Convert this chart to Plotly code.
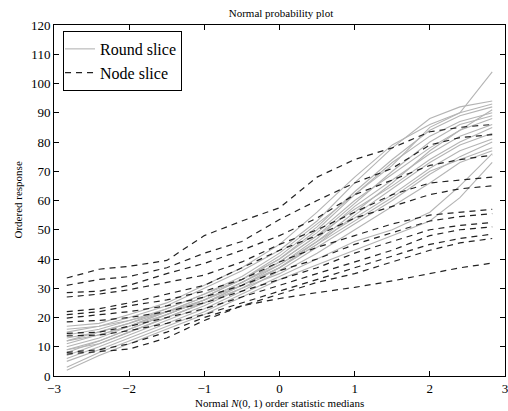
import plotly.graph_objects as go

# Shared x positions (normal order statistic medians, sampled)
x_grid = [-2.83, -2.4, -2.0, -1.5, -1.0, -0.5, 0.0, 0.5, 1.0, 1.5, 2.0, 2.4, 2.83]

# Round slice series (gray solid)
round_slice = [
    [12, 15, 18, 23, 28, 33, 40, 50, 62, 72, 85, 90, 104],
    [15, 17, 20, 24, 30, 36, 43, 53, 66, 78, 88, 92, 94],
    [17, 18, 21, 25, 31, 37, 45, 56, 68, 79, 86, 90, 93],
    [10, 13, 17, 22, 27, 33, 41, 51, 63, 74, 84, 89, 92],
    [14, 16, 19, 23, 28, 34, 42, 52, 62, 73, 82, 87, 90],
    [9, 12, 16, 21, 26, 32, 39, 48, 59, 70, 80, 86, 89],
    [11, 14, 17, 22, 27, 33, 40, 49, 60, 69, 78, 84, 88],
    [7, 11, 15, 20, 25, 31, 38, 47, 58, 67, 76, 82, 86],
    [13, 15, 18, 22, 26, 32, 39, 48, 57, 65, 74, 80, 85],
    [6, 10, 14, 19, 24, 30, 37, 45, 55, 64, 73, 79, 83],
    [8, 12, 16, 21, 26, 31, 37, 46, 54, 62, 71, 77, 81],
    [5, 9, 13, 18, 23, 29, 36, 44, 52, 60, 69, 75, 80],
    [16, 17, 19, 22, 25, 30, 35, 42, 50, 58, 66, 73, 77],
    [3, 8, 12, 17, 22, 28, 34, 40, 46, 50, 56, 65, 76],
    [2, 7, 11, 16, 21, 27, 33, 38, 43, 48, 53, 61, 73],
    [12, 14, 17, 21, 26, 32, 38, 46, 56, 66, 77, 84, 91],
    [9, 11, 15, 20, 25, 31, 37, 45, 53, 61, 70, 74, 78],
]

# Node slice series (black dashed)
node_slice = [
    [33.5, 36.5, 37.5, 39.5, 48, 53, 57.5, 68, 74, 78, 83.5, 85, 86],
    [31, 33, 34, 37, 42, 46, 53.5, 60, 66, 71, 79, 81.5, 82.5],
    [28.5, 29, 31, 35, 38.5, 43, 48, 54, 62, 67, 72, 74, 75.5],
    [27, 28, 29.5, 32, 34.5, 39, 45, 50, 56, 62, 66, 67, 68],
    [22, 23, 25, 28, 31, 37, 43, 48, 54, 58, 62, 64, 65],
    [21, 22, 24, 26, 29, 33, 39, 44, 48, 52, 55, 56, 57],
    [19.8, 21, 22, 24, 27, 31, 36, 40, 45, 49, 53, 54.5, 55.5],
    [18.5, 19, 20, 22, 25, 29, 33, 37, 42, 46, 50, 51.5, 52.5],
    [14.6, 15, 17, 20, 23, 27, 31, 35, 39, 43, 48, 50, 51],
    [13.7, 14, 15.5, 18, 21, 25, 29, 33, 37, 41, 45, 47, 48.5],
    [8.1, 9, 11, 15, 20, 24, 28, 32, 35, 39, 43, 45.5, 47],
    [7.5, 8.5, 9.2, 13, 19, 24, 26.5, 28.5, 30.3, 32.5, 35, 37, 38.6],
]

x_ticks = [-3, -2, -1, 0, 1, 2, 3]
x_tick_labels = ["\u22123", "\u22122", "\u22121", "0", "1", "2", "3"]
y_ticks = list(range(0, 121, 10))

FONT = "Liberation Serif"

fig = go.Figure()
for i, ys in enumerate(round_slice):
    fig.add_trace(go.Scatter(
        x=x_grid, y=ys, mode="lines", name="Round slice",
        showlegend=(i == 0),
        line=dict(color="#b4b4b4", width=1.1),
    ))
for i, ys in enumerate(node_slice):
    fig.add_trace(go.Scatter(
        x=x_grid, y=ys, mode="lines", name="Node slice",
        showlegend=(i == 0),
        line=dict(color="#222222", width=1.2, dash="6px,5px"),
    ))

axis_common = dict(
    showgrid=False, zeroline=False, showline=True, linecolor="black",
    linewidth=1, mirror="allticks", ticks="inside", ticklen=5,
    tickcolor="black", tickwidth=1,
    tickfont=dict(family=FONT, size=13, color="black"),
)

fig.update_layout(
    width=508, height=411,
    margin=dict(l=54, r=0, t=25, b=35),
    paper_bgcolor="white", plot_bgcolor="white",
    title=dict(text="Normal probability plot", x=0.5 + 27 / 508,
               xanchor="center", y=1 - 13 / 411, yanchor="middle",
               font=dict(family=FONT, size=11, color="black")),
    xaxis=dict(range=[-3, 3], tickvals=x_ticks, ticktext=x_tick_labels,
               ticklabeloverflow="allow", **axis_common),
    yaxis=dict(range=[0, 120], tickvals=y_ticks, **axis_common),
    legend=dict(x=0.02, y=0.983, xanchor="left", yanchor="top",
                bgcolor="white", bordercolor="black", borderwidth=1,
                font=dict(family=FONT, size=16, color="black"),
                tracegroupgap=0, itemwidth=30, indentation=-4),
    showlegend=True,
    annotations=[
        dict(text="Normal <i>N</i>(0, 1) order statistic medians",
             xref="paper", yref="paper", x=0.5, y=0, yshift=-27,
             xanchor="center", yanchor="middle", showarrow=False,
             font=dict(family=FONT, size=11, color="black")),
        dict(text="Ordered response", textangle=-90,
             xref="paper", yref="paper", x=0, y=0.5, xshift=-37,
             xanchor="center", yanchor="middle", showarrow=False,
             font=dict(family=FONT, size=11, color="black")),
    ],
)

fig.write_html("out.html", config={"displayModeBar": False},
               post_script="document.body.style.margin='0';document.body.style.overflow='hidden';")
